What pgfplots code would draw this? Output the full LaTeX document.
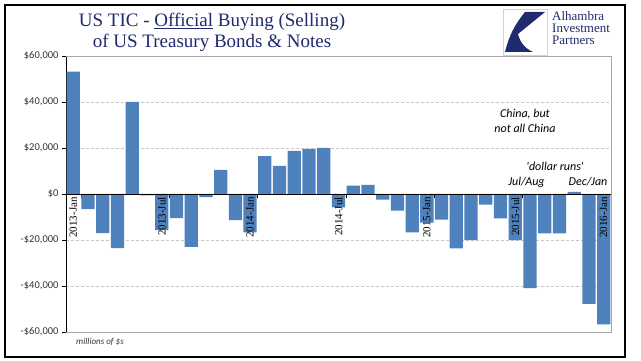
\documentclass[border=0pt]{standalone}
\usepackage{fontspec}
\setmainfont{Liberation Serif}
\newfontfamily\calibri{Carlito}
\usepackage{pgfplots}
\pgfplotsset{compat=1.18}
\definecolor{barblue}{RGB}{79,129,189}
\definecolor{navy}{RGB}{32,42,110}
\tikzset{
  datelab/.style={rotate=90, anchor=east, inner sep=0pt, font=\fontsize{11}{12}\selectfont},
  annot/.style={font=\calibri\itshape\fontsize{12}{15}\selectfont},
}
\begin{document}
\begin{tikzpicture}
\begin{axis}[name=ax, scale only axis, width=545pt, height=276pt,
  xmin=-0.5, xmax=36.5, ymin=-60000, ymax=60000,
  axis x line=middle, axis y line=left, axis line style={-, black},
  ybar, bar width=0.9,
  scaled y ticks=false,
  xtick={0.5,6.5,12.5,18.5,24.5,30.5,36.5}, xticklabels={},
  tick align=outside, major tick length=4pt, tick style={black, thin},
  ytick={-60000,-40000,-20000,0,20000,40000,60000},
  yticklabels={{-\$60,000},{-\$40,000},{-\$20,000},{\$0},{\$20,000},{\$40,000},{\$60,000}},
  yticklabel style={font=\calibri\fontsize{10.5}{12}\selectfont, text=black!80},
  ymajorgrids, major grid style={densely dashed, gray!45},
  clip=false,
]
\addplot[fill=barblue, draw=none] coordinates {
(0,53200) (1,-6600) (2,-17000) (3,-23500) (4,40100) (5,-600) (6,-15700)
(7,-10500) (8,-23000) (9,-1400) (10,10500) (11,-11400) (12,-16700)
(13,16500) (14,12200) (15,18700) (16,19600) (17,20100) (18,-5800)
(19,3600) (20,4000) (21,-2400) (22,-7200) (23,-16700) (24,-12400)
(25,-11100) (26,-23600) (27,-20100) (28,-4600) (29,-10600) (30,-20100)
(31,-40900) (32,-17100) (33,-17100) (34,900) (35,-47800) (36,-56700)};
\draw[gray!70] (rel axis cs:0,1) -- (rel axis cs:1,1) -- (rel axis cs:1,0) -- (rel axis cs:0,0);
\draw[black] (axis cs:-0.5,0) -- (axis cs:36.5,0);
\node[datelab] at ([yshift=-3pt]axis cs:0,0) {2013-Jan};
\node[datelab] at ([yshift=-3pt]axis cs:6,0) {2013-Jul};
\node[datelab] at ([yshift=-3pt]axis cs:12,0) {2014-Jan};
\node[datelab] at ([yshift=-3pt]axis cs:18,0) {2014-Jul};
\node[datelab] at ([yshift=-3pt]axis cs:24,0) {2015-Jan};
\node[datelab] at ([yshift=-3pt]axis cs:30,0) {2015-Jul};
\node[datelab] at ([yshift=-3pt]axis cs:36,0) {2016-Jan};
\node[annot, align=center] at (axis cs:30.66,32000) {China, but\\not all China};
\node[annot, anchor=base] at (axis cs:32.7,10130) {'dollar runs'};
\node[annot, anchor=base] at (axis cs:30.76,3600) {Jul/Aug};
\node[annot, anchor=base] at (axis cs:34.94,3600) {Dec/Jan};
\end{axis}
% title
\node[anchor=base, text=navy, font=\fontsize{19}{21}\selectfont] at ([shift={(146pt,305pt)}]ax.south west) {US TIC - \underline{Official} Buying (Selling)};
\node[anchor=base, text=navy, font=\fontsize{19}{21}\selectfont] at ([shift={(146pt,284pt)}]ax.south west) {of US Treasury Bonds \& Notes};
% logo
\draw[gray!35] ([shift={(437pt,277pt)}]ax.south west) rectangle ([shift={(481pt,323pt)}]ax.south west);
\fill[navy] ([shift={(439pt,280pt)}]ax.south west) to[bend left=12] ([shift={(459pt,320pt)}]ax.south west)
  -- ([shift={(479pt,320pt)}]ax.south west) -- ([shift={(452pt,298pt)}]ax.south west)
  to[bend right=25] ([shift={(467pt,280pt)}]ax.south west) -- cycle;
\node[anchor=base west, text=navy, inner sep=0pt, font=\fontsize{13}{12}\selectfont] at ([shift={(486pt,311pt)}]ax.south west) {Alhambra};
\node[anchor=base west, text=navy, inner sep=0pt, font=\fontsize{13}{12}\selectfont] at ([shift={(486pt,299pt)}]ax.south west) {Investment};
\node[anchor=base west, text=navy, inner sep=0pt, font=\fontsize{13}{12}\selectfont] at ([shift={(486pt,287pt)}]ax.south west) {Partners};
% footnote
\node[anchor=base west, inner sep=0pt, text=black!80, font=\calibri\itshape\fontsize{9}{10}\selectfont] at ([shift={(10pt,-13pt)}]ax.south west) {millions of \$s};
% frame and bounding box
\draw[black, line width=1.2pt] ([shift={(-61pt,-25pt)}]ax.south west) rectangle ([shift={(559pt,327pt)}]ax.south west);
\path[use as bounding box] ([shift={(-66pt,-29pt)}]ax.south west) rectangle ([shift={(575pt,332pt)}]ax.south west);
\end{tikzpicture}
\end{document}
